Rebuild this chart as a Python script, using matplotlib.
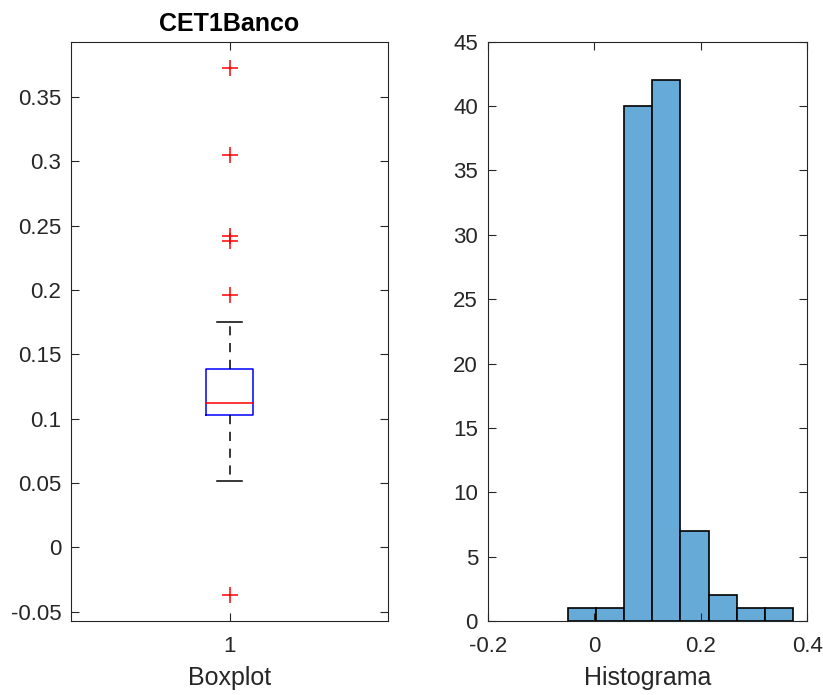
import numpy as np
import matplotlib.pyplot as plt

plt.rcParams['font.family'] = ['Liberation Sans', 'DejaVu Sans']

# resumo do boxplot (quartis, bigodes e outliers)
q1, med, q3 = 0.1027, 0.1120, 0.1384
whislo, whishi = 0.0516, 0.1752
outliers = [0.3726, 0.3050, 0.2420, 0.2383, 0.1958, -0.0373]

# histograma: bordas das classes e contagens
bin_edges = [-0.0498, 0.0031, 0.0560, 0.1089, 0.1618, 0.2147, 0.2676, 0.3205, 0.3734]
counts = [1, 1, 40, 42, 7, 2, 1, 1]

axcol = '#262626'
plt.rcParams['axes.edgecolor'] = axcol
plt.rcParams['xtick.color'] = axcol
plt.rcParams['ytick.color'] = axcol
plt.rcParams['axes.labelcolor'] = axcol
plt.rcParams['axes.linewidth'] = 0.8

fig = plt.figure(figsize=(8.23, 6.95), dpi=100)
ax1 = fig.add_axes([0.0863, 0.1065, 0.3852, 0.8335])
ax2 = fig.add_axes([0.5926, 0.1065, 0.3883, 0.8335])

stats = [dict(med=med, q1=q1, q3=q3, whislo=whislo, whishi=whishi, fliers=outliers)]
ax1.bxp(stats, positions=[1], widths=0.15,
        boxprops=dict(color='blue', linewidth=1.1),
        medianprops=dict(color='red', linewidth=1.1),
        whiskerprops=dict(color='black', linestyle=(0, (6, 5)), linewidth=1.1),
        capprops=dict(color='black', linewidth=1.1),
        capwidths=0.078,
        flierprops=dict(marker='+', markeredgecolor='red', markersize=11, markeredgewidth=1.1))
ax1.set_xlim(0.5, 1.5)
ax1.set_ylim(-0.0572, 0.393)
ax1.set_xticks([1])
ax1.set_xticklabels(['1'])
ax1.set_yticks([-0.05, 0, 0.05, 0.1, 0.15, 0.2, 0.25, 0.3, 0.35])
ax1.set_yticklabels(['-0.05', '0', '0.05', '0.1', '0.15', '0.2', '0.25', '0.3', '0.35'])
ax1.set_title('CET1Banco', fontsize=18, fontweight='bold', color='black', pad=8)
ax1.set_xlabel('Boxplot', fontsize=18, labelpad=6)

ax2.bar(bin_edges[:-1], counts, width=np.diff(bin_edges), align='edge',
        color=(0.4, 0.668, 0.845), edgecolor='black', linewidth=1.2)
ax2.set_xlim(-0.2, 0.4)
ax2.set_ylim(0, 45)
ax2.set_xticks([-0.2, 0, 0.2, 0.4])
ax2.set_xticklabels(['-0.2', '0', '0.2', '0.4'])
ax2.set_yticks(range(0, 46, 5))
ax2.set_xlabel('Histograma', fontsize=18, labelpad=6)

for ax in (ax1, ax2):
    ax.tick_params(direction='in', length=6, width=0.8, labelsize=16,
                   top=True, right=True)
    ax.tick_params(axis='y', pad=7)
    ax.tick_params(axis='x', pad=11)

fig.savefig('out.png', dpi=100)
